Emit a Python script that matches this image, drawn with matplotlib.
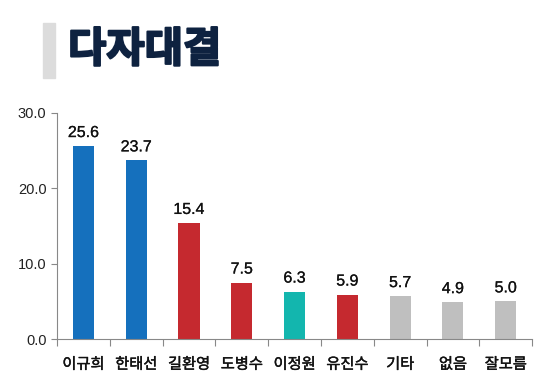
import numpy as np
import matplotlib.pyplot as plt
import matplotlib.patheffects as pe
from matplotlib.patches import Rectangle

plt.rcParams['font.family'] = ['Noto Sans CJK KR', 'DejaVu Sans']

# data
candidates = ['이규희', '한태선', '길환영', '도병수', '이정원', '유진수', '기타', '없음', '잘모름']
values = [25.6, 23.7, 15.4, 7.5, 6.3, 5.9, 5.7, 4.9, 5.0]
colors = ['#1570bd', '#1570bd', '#c5292f', '#c5292f', '#13b6ae', '#c5292f',
          '#bfbfbf', '#bfbfbf', '#bfbfbf']
yticks = [0, 10, 20, 30]

fig = plt.figure(figsize=(5.48, 3.92), dpi=100)
ax = fig.add_axes([0.104, 0.135, 0.867, 0.577])

x = np.arange(len(candidates))
ax.bar(x, values, width=0.4, color=colors)
thin = [pe.withStroke(linewidth=0.15, foreground='#111111')]
for xi, v in zip(x, values):
    ax.text(xi, v + 0.8, f'{v:.1f}', ha='center', va='bottom', path_effects=thin,
            fontsize=11.5, color='#111111', family=['Liberation Sans', 'DejaVu Sans'])

ax.set_xlim(-0.5, len(candidates) - 0.5)
ax.set_ylim(0, 30)
ax.set_yticks(yticks)
ax.set_yticklabels([f'{t:.1f}' for t in yticks], family=['Liberation Sans', 'DejaVu Sans'])
ax.tick_params(axis='y', labelsize=10.5, colors='#222222', length=4, direction='out')

# x ticks at category boundaries
ax.set_xticks(np.arange(len(candidates) + 1) - 0.5, minor=False)
ax.set_xticklabels([])
ax.set_xticks(x, minor=True)
labels = ax.set_xticklabels(candidates, minor=True, fontsize=11, color='#111111')
for lab in labels:
    lab.set_path_effects([pe.withStroke(linewidth=0.3, foreground='#111111')])
ax.tick_params(axis='x', which='major', length=5, color='#888888')
ax.tick_params(axis='x', which='minor', length=0, pad=12)
ax.tick_params(axis='y', color='#888888')

for s in ['top', 'right']:
    ax.spines[s].set_visible(False)
ax.spines['left'].set_color('#888888')
ax.spines['bottom'].set_color('#888888')

# title
fig.patches.append(Rectangle((43 / 548, 1 - 78 / 392), 12 / 548, 55 / 392,
                             transform=fig.transFigure, color='#dcdcdc'))
fig.text(68 / 548, 1 - 50 / 392, '다자대결', fontsize=30, fontweight='black',
         color='#0e2240', va='center', ha='left',
         path_effects=[pe.withStroke(linewidth=1.5, foreground='#0e2240')])

fig.savefig('out.png', dpi=100)
